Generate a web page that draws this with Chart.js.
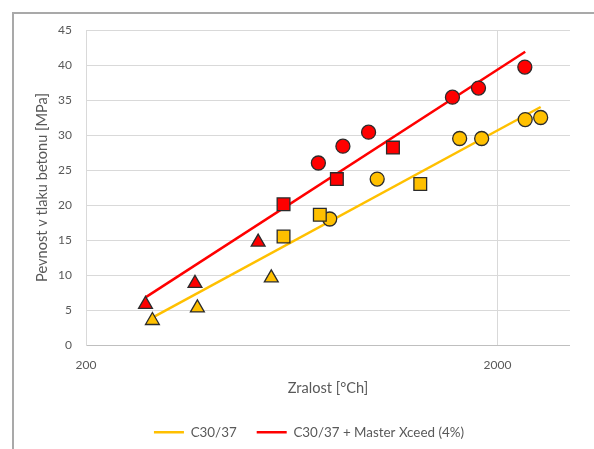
<!DOCTYPE html>
<html>
<head>
<meta charset="utf-8">
<script src="https://cdn.jsdelivr.net/npm/chart.js@4/dist/chart.umd.min.js"></script>
<style>
  html, body { margin: 0; padding: 0; background: #fff; overflow: hidden; }
  #wrap { position: relative; width: 594px; height: 449px; overflow: hidden; }
  #frame { position: absolute; left: 12px; top: 12px; width: 700px; height: 500px;
           border-left: 2px solid #a9a9a9; border-top: 2px solid #a9a9a9; }
  #zralostChart { position: absolute; left: 0; top: 0; }
</style>
</head>
<body>
<div id="wrap">
  <div id="frame"></div>
  <canvas id="zralostChart" width="570" height="449"></canvas>
</div>
<script>
// C30/37 (zluta)
var refTriX = [290, 373, 564];
var refTriY = [3.5, 5.3, 9.6];
var refSqX = [604, 740, 1298];
var refSqY = [15.5, 18.6, 23.0];
var refCirX = [782, 1020, 1618, 1830, 2335, 2546];
var refCirY = [18.0, 23.7, 29.5, 29.5, 32.2, 32.5];

// C30/37 + Master Xceed (4%) (cervena)
var mxTriX = [279, 368, 524];
var mxTriY = [5.8, 8.8, 14.7];
var mxSqX = [604, 814, 1114];
var mxSqY = [20.1, 23.7, 28.2];
var mxCirX = [734, 842, 972, 1554, 1798, 2330];
var mxCirY = [26.0, 28.4, 30.4, 35.4, 36.7, 39.7];

// trendy (logaritmicke)
var refTrendX = [290, 2546];
var refTrendY = [3.9, 34.0];
var mxTrendX = [279, 2335];
var mxTrendY = [6.8, 41.9];

var seriesNames = ['C30/37', 'C30/37 + Master Xceed (4%)'];
var xTicks = [200, 2000];

var yellow = '#FFC000';
var red = '#FF0000';
var edge = '#2b2b2b';
var textGray = '#595959';
var font = 'Lato, "Open Sans", sans-serif';

function pts(xs, ys) {
  return xs.map(function (x, i) { return { x: x, y: ys[i] }; });
}

function markers(label, xs, ys, color, style, r) {
  return {
    label: label,
    data: pts(xs, ys),
    pointStyle: style,
    pointRadius: r,
    pointHoverRadius: r,
    backgroundColor: color,
    borderColor: edge,
    borderWidth: 1.3,
    order: 1
  };
}

function trend(label, xs, ys, color) {
  return {
    label: label,
    data: pts(xs, ys),
    showLine: true,
    isTrend: true,
    pointRadius: 0,
    borderColor: color,
    backgroundColor: color,
    borderWidth: 2.5,
    order: 5
  };
}

var ctx = document.getElementById('zralostChart');

const chart = new Chart(ctx, {
  type: 'scatter',
  data: {
    datasets: [
      markers('sq1', refSqX, refSqY, yellow, 'rect', 9),
      markers('sq2', mxSqX, mxSqY, red, 'rect', 9),
      markers('tri1', refTriX, refTriY, yellow, 'triangle', 8),
      markers('tri2', mxTriX, mxTriY, red, 'triangle', 8),
      markers('cir1', refCirX, refCirY, yellow, 'circle', 7),
      markers('cir2', mxCirX, mxCirY, red, 'circle', 7),
      trend(seriesNames[0], refTrendX, refTrendY, yellow),
      trend(seriesNames[1], mxTrendX, mxTrendY, red)
    ]
  },
  options: {
    responsive: false,
    animation: false,
    layout: { autoPadding: false, padding: { top: 30, right: 0, left: 48, bottom: 0 } },
    scales: {
      x: {
        type: 'logarithmic',
        min: 200,
        max: 3000,
        afterBuildTicks: function (scale) {
          scale.ticks = xTicks.map(function (v) { return { value: v }; });
        },
        afterFit: function (scale) {
          scale.height = 60.6;
          scale.paddingLeft = 0;
          scale.paddingRight = 0;
        },
        ticks: {
          color: textGray,
          font: { family: font, size: 12 },
          padding: 13,
          maxRotation: 0,
          callback: function (v) { return String(v); }
        },
        grid: { color: '#d9d9d9', drawTicks: false },
        border: { color: '#bfbfbf', width: 1 },
        title: {
          display: true,
          text: 'Zralost [°Ch]',
          color: textGray,
          font: { family: font, size: 14.6 },
          padding: { top: 0, bottom: 8.8 }
        }
      },
      y: {
        min: 0,
        max: 45,
        afterFit: function (scale) {
          scale.width = 38;
          scale.paddingTop = 0;
          scale.paddingBottom = 0;
        },
        ticks: {
          stepSize: 5,
          color: textGray,
          font: { family: font, size: 12 },
          padding: 14
        },
        grid: { color: '#d9d9d9', drawTicks: false },
        border: { color: '#d9d9d9' },
        title: {
          display: true,
          text: 'Pevnost v tlaku betonu [MPa]',
          color: textGray,
          font: { family: font, size: 14.6 },
          padding: { top: -14.8, bottom: 0 }
        }
      }
    },
    plugins: {
      tooltip: { enabled: false },
      legend: {
        position: 'bottom',
        labels: {
          usePointStyle: true,
          pointStyle: 'line',
          pointStyleWidth: 30,
          padding: 20,
          color: textGray,
          font: { family: font, size: 13.4 },
          filter: function (item, data) {
            return data.datasets[item.datasetIndex].isTrend === true;
          }
        }
      }
    }
  }
});
</script>
</body>
</html>
